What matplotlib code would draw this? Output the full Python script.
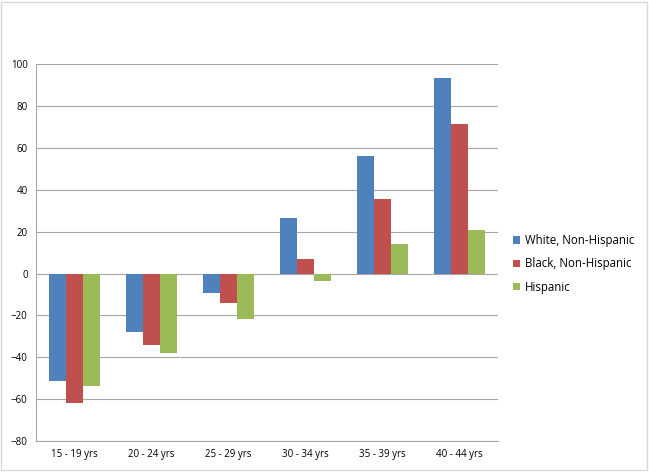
import numpy as np
import matplotlib.pyplot as plt
from matplotlib.patches import Rectangle

groups = ["15 - 19 yrs", "20 - 24 yrs", "25 - 29 yrs", "30 - 34 yrs", "35 - 39 yrs", "40 - 44 yrs"]
white = [-51.5, -28, -9.5, 26.5, 56, 93.5]
black = [-62, -34, -14, 7, 35.5, 71.5]
hispanic = [-53.5, -38, -21.5, -3.5, 14, 21]
series = ["White, Non-Hispanic", "Black, Non-Hispanic", "Hispanic"]
colors = ["#4F81BD", "#C0504D", "#9BBB59"]

plt.rcParams['font.family'] = ['Open Sans', 'DejaVu Sans']

fig = plt.figure(figsize=(6.49, 4.72), dpi=100)
ax = fig.add_axes([0.0555, 0.0657, 0.712, 0.798])

x = np.arange(len(groups))
w = 0.22
for i, (vals, name, c) in enumerate(zip([white, black, hispanic], series, colors)):
    ax.bar(x + (i - 1) * w, vals, w, color=c, label=name, zorder=3)

ax.set_xlim(-0.5, len(groups) - 0.5)
ax.set_ylim(-80, 100)
ax.set_yticks(np.arange(-80, 101, 20))
ax.set_xticks(x)
ax.set_xticklabels(groups)
ax.grid(axis='y', color='#A6A6A6', linewidth=0.8, zorder=0)
ax.tick_params(axis='both', length=0, labelsize=7, colors='black', pad=6)
for s in ['top', 'right']:
    ax.spines[s].set_visible(False)
for s in ['left', 'bottom']:
    ax.spines[s].set_color('#A6A6A6')
    ax.spines[s].set_linewidth(0.8)

ax.legend(loc='center left', bbox_to_anchor=(1.01, 0.47), frameon=False, fontsize=8.3,
          handlelength=0.6, handleheight=0.6, handletextpad=0.4, labelspacing=0.9)

fig.patches.append(Rectangle((0.002, 0.004), 0.995, 0.992, transform=fig.transFigure,
                             fill=False, edgecolor='#D9D9D9', linewidth=1))

fig.savefig("out.png", dpi=100)
